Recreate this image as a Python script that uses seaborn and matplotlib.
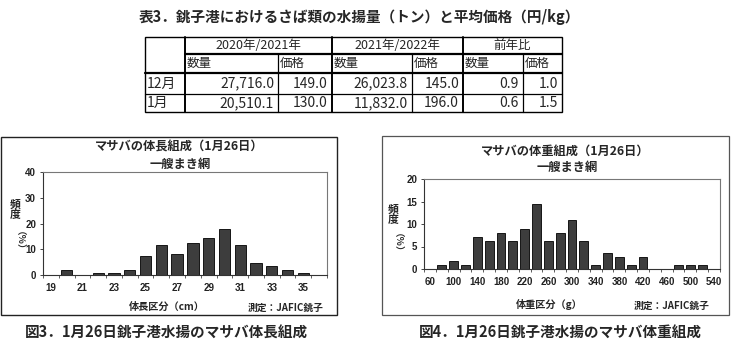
import matplotlib
matplotlib.use("Agg")
import matplotlib.pyplot as plt
from matplotlib.patches import Rectangle
import seaborn as sns
import pandas as pd

sns.set_theme(style="white")
JP = ['Noto Sans CJK JP', 'DejaVu Sans']
LAT = ['Liberation Sans', 'DejaVu Sans']
plt.rcParams['font.family'] = JP

# ---------------- data ----------------
table_title = "表3．銚子港におけるさば類の水揚量（トン）と平均価格（円/kg）"
season_headers = ["2020年/2021年", "2021年/2022年", "前年比"]
sub_headers = ["数量", "価格"]
months = ["12月", "1月"]
qty_prev = [27716.0, 20510.1]
price_prev = [149.0, 130.0]
qty_cur = [26023.8, 11832.0]
price_cur = [145.0, 196.0]
ratio_qty = [0.9, 0.6]
ratio_price = [1.0, 1.5]

length_bins = [19, 20, 21, 22, 23, 24, 25, 26, 27, 28, 29, 30, 31, 32, 33, 34, 35, 36]
length_pct = [0, 1.8, 0, 0.9, 0.9, 1.8, 7.2, 11.7, 8.1, 12.6, 14.4, 18.0, 11.7, 4.5, 3.6, 1.8, 0.9, 0]

weight_bins = [60, 80, 100, 120, 140, 160, 180, 200, 220, 240, 260, 280, 300, 320,
               340, 360, 380, 400, 420, 440, 460, 480, 500, 520, 540]
weight_pct = [0, 0.9, 1.8, 0.9, 7.2, 6.3, 8.1, 6.3, 9.0, 14.4, 6.3, 8.1, 10.8, 6.3,
              0.9, 3.6, 2.7, 0.9, 2.7, 0, 0, 0.9, 0.9, 0.9, 0]

len_title = ["マサバの体長組成（1月26日）", "一艘まき網"]
wt_title = ["マサバの体重組成（1月26日）", "一艘まき網"]
len_xlabel = "体長区分（cm）"
wt_xlabel = "体重区分（g）"
sample_note = "測定  111尾"
credit = "測定：JAFIC銚子"
captions = ["図3．1月26日銚子港水揚のマサバ体長組成", "図4．1月26日銚子港水揚のマサバ体重組成"]

W, H = 731, 354
fig = plt.figure(figsize=(W / 100, H / 100), dpi=100)

# overlay axes in pixel coordinates
ov = fig.add_axes([0, 0, 1, 1], zorder=0)
ov.set_xlim(0, W)
ov.set_ylim(H, 0)
ov.axis('off')
ov.patch.set_alpha(0)

def px(x0, y0, x1, y1):
    return [x0 / W, 1 - y1 / H, (x1 - x0) / W, (y1 - y0) / H]

# ---------------- table ----------------
ov.text(359, 17, table_title, ha='center', va='center', fontsize=10.5,
        fontweight='bold', family=JP)
cx = [145, 185, 278, 332, 412, 463, 523, 562]
ry = [37, 54, 73, 94, 112]
lw = 0.9
ov.add_patch(Rectangle((cx[0], ry[0]), cx[-1] - cx[0], ry[-1] - ry[0], fill=False,
                       ec='black', lw=1.0))
ov.plot([cx[1], cx[-1]], [ry[1], ry[1]], color='black', lw=1.6)
ov.plot([cx[0], cx[-1]], [ry[2], ry[2]], color='black', lw=1.6)
ov.plot([cx[0], cx[-1]], [ry[3], ry[3]], color='black', lw=lw)
for x in cx[1:-1]:
    thick = x in (185, 332, 463)
    top = ry[0] if thick else ry[1]
    ov.plot([x, x], [top, ry[-1]], color='black', lw=1.4 if thick else lw)

tfs = 9
for k, h in enumerate(season_headers):
    ov.text((cx[1 + 2 * k] + cx[3 + 2 * k]) / 2, (ry[0] + ry[1]) / 2, h,
            ha='center', va='center', fontsize=tfs, family=JP)
    for j, s in enumerate(sub_headers):
        ov.text(cx[1 + 2 * k + j] + 2, (ry[1] + ry[2]) / 2, s,
                ha='left', va='center', fontsize=tfs, family=JP)

for r, m in enumerate(months):
    yc = (ry[2 + r] + ry[3 + r]) / 2
    ov.text(cx[0] + 2, yc, m, ha='left', va='center', fontsize=tfs + 1, family=JP)
    vals = [f"{qty_prev[r]:,.1f}", f"{price_prev[r]:.1f}",
            f"{qty_cur[r]:,.1f}", f"{price_cur[r]:.1f}",
            f"{ratio_qty[r]:.1f}", f"{ratio_price[r]:.1f}"]
    for c, v in enumerate(vals):
        ov.text(cx[2 + c] - 4, yc, v, ha='right', va='center', fontsize=tfs + 1, family=JP)

# ---------------- chart boxes ----------------
ov.add_patch(Rectangle((1, 137), 336, 178, fill=False, ec='#222222', lw=1.0))
ov.add_patch(Rectangle((382, 136), 347, 179, fill=False, ec='#555555', lw=0.9))


def chart(rect, bins, vals, ymax, ystep, width):
    ax = fig.add_axes(rect, zorder=2)
    df = pd.DataFrame({'bin': [str(b) for b in bins], 'pct': vals})
    sns.barplot(data=df, x='bin', y='pct', order=list(df['bin']), color='#3d3d3d',
                edgecolor='black', linewidth=0.6, width=width, saturation=1, ax=ax)
    n = len(bins)
    ax.set_xlim(-0.5, n - 0.5)
    ax.set_ylim(0, ymax)
    ax.set_yticks(list(range(0, ymax + 1, ystep)))
    ax.set_xticks(list(range(0, n, 2)))
    ax.set_xticklabels([str(b) for b in bins[::2]])
    ax.set_xticks([i - 0.5 for i in range(n + 1)], minor=True)
    ax.tick_params(axis='x', which='major', length=0, pad=5.5, labelsize=7)
    ax.tick_params(axis='x', which='minor', length=2.5, width=0.6, color='#444444',
                   direction='out', bottom=True)
    ax.tick_params(axis='y', which='major', length=2.5, width=0.6, direction='out',
                   left=True, pad=2.5, labelsize=7)
    for lab in ax.get_xticklabels() + ax.get_yticklabels():
        lab.set_family(LAT)
        lab.set_fontweight('bold')
        lab.set_color('#222222')
    ax.set_xlabel('')
    ax.set_ylabel('')
    for s in ['left', 'bottom']:
        ax.spines[s].set_color('#333333')
        ax.spines[s].set_linewidth(0.8)
    for s in ['top', 'right']:
        ax.spines[s].set_color('#777777')
        ax.spines[s].set_linewidth(0.8)
    ax.set_facecolor('white')
    return ax


chart(px(43, 172, 327, 275), length_bins, length_pct, 40, 10, 0.72)
chart(px(424, 179, 720, 269), weight_bins, weight_pct, 20, 5, 0.75)

# ---------------- chart texts ----------------
tfs2 = 8.8
ov.text(179, 147, len_title[0], ha='center', va='center', fontsize=tfs2, fontweight='bold', family=JP)
ov.text(180, 164, len_title[1], ha='center', va='center', fontsize=tfs2, fontweight='bold', family=JP)
ov.text(565, 151, wt_title[0], ha='center', va='center', fontsize=tfs2, fontweight='bold', family=JP)
ov.text(567, 167, wt_title[1], ha='center', va='center', fontsize=tfs2, fontweight='bold', family=JP)

nfs = 6.8
ov.text(284, 192, sample_note, ha='center', va='center', fontsize=nfs, fontweight='bold', family=JP)
ov.text(666, 199, sample_note, ha='center', va='center', fontsize=nfs, fontweight='bold', family=JP)

ov.text(167, 307, len_xlabel, ha='center', va='center', fontsize=7.3, fontweight='bold', family=JP)
ov.text(549, 304, wt_xlabel, ha='center', va='center', fontsize=7.3, fontweight='bold', family=JP)
ov.text(286, 308, credit, ha='center', va='center', fontsize=7, fontweight='bold', family=JP)
ov.text(672, 306, credit, ha='center', va='center', fontsize=7, fontweight='bold', family=JP)

# vertical y labels
for (x, y1, y2) in [(15, 210, 245), (393, 215, 247)]:
    ov.text(x, y1, "頻\n度", ha='center', va='center', fontsize=7.8, fontweight='bold',
            family=JP, linespacing=1.1)
    ov.text(x, y2, "（％）", ha='center', va='center', fontsize=6.8, fontweight='bold',
            family=JP, rotation=-90)

# captions
ov.text(166, 333, captions[0], ha='center', va='center', fontsize=10.5, fontweight='bold', family=JP)
ov.text(560, 333, captions[1], ha='center', va='center', fontsize=10.5, fontweight='bold', family=JP)

fig.savefig("out.png", dpi=100)
